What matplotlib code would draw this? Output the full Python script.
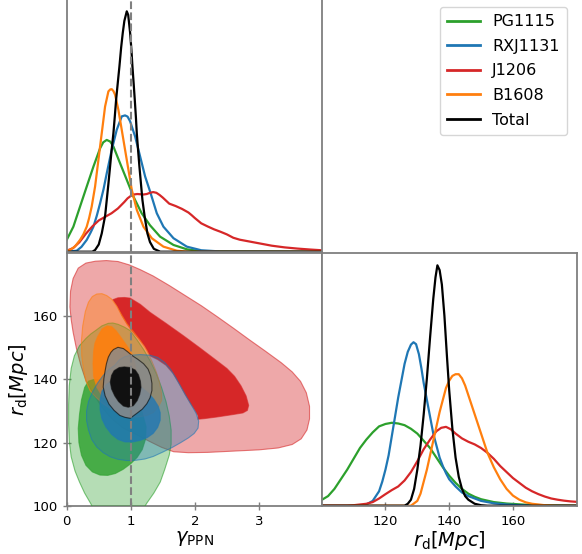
import matplotlib
matplotlib.use('Agg')
from matplotlib import pyplot as plt
from matplotlib.lines import Line2D

# colours of the lenses
c_pg = '#2ca02c'
c_rxj = '#1f77b4'
c_j12 = '#d62728'
c_b16 = '#ff7f0e'

lens_names = ['PG1115', 'RXJ1131', 'J1206', 'B1608', 'Total']

# ---- 1D marginal of gamma_PPN ----
pg_g_x = [0.0, 0.104, 0.208, 0.3125, 0.417, 0.521, 0.57, 0.625, 0.68, 0.729, 0.833, 0.9375, 1.042, 1.17, 1.30,
          1.458, 1.667, 1.875, 2.1, 3.98]
pg_g_y = [0.049, 0.104, 0.1875, 0.271, 0.354, 0.43, 0.455, 0.465, 0.458, 0.4375, 0.368, 0.299, 0.229, 0.16, 0.11,
          0.0625, 0.028, 0.01, 0.002, 0.0]

rxj_g_x = [0.0, 0.156, 0.23, 0.3125, 0.37, 0.417, 0.47, 0.521, 0.575, 0.625, 0.703, 0.781, 0.859, 0.911, 0.95,
           0.99, 1.068, 1.146, 1.224, 1.302, 1.406, 1.51, 1.667, 1.875, 2.1, 2.4, 3.98]
rxj_g_y = [0.0, 0.004, 0.02, 0.049, 0.078, 0.104, 0.15, 0.201, 0.26, 0.326, 0.424, 0.507, 0.563, 0.567, 0.562,
           0.542, 0.479, 0.396, 0.313, 0.25, 0.16, 0.104, 0.056, 0.021, 0.006, 0.001, 0.0]

j12_g_x = [0.0, 0.1, 0.2, 0.3, 0.4, 0.5, 0.6, 0.7, 0.8, 0.9, 0.95, 1.0, 1.05, 1.1, 1.15, 1.2, 1.25, 1.3, 1.35, 1.4,
           1.45, 1.5, 1.6, 1.7, 1.8, 1.9, 1.95, 2.0, 2.1, 2.2, 2.3, 2.4, 2.5, 2.6, 2.7, 2.8, 3.0, 3.2, 3.4, 3.6,
           3.8, 3.98]
j12_g_y = [0.004, 0.015, 0.04, 0.075, 0.105, 0.13, 0.145, 0.16, 0.18, 0.207, 0.222, 0.232, 0.238, 0.24, 0.239, 0.238, 0.24, 0.245, 0.248, 0.245,
           0.236, 0.225, 0.20, 0.19, 0.178, 0.163, 0.152, 0.14, 0.118, 0.105, 0.093, 0.083, 0.072, 0.058, 0.05, 0.045, 0.035, 0.025, 0.018, 0.013,
           0.009, 0.006]

b16_g_x = [0.0, 0.052, 0.13, 0.208, 0.26, 0.3125, 0.35, 0.39, 0.443, 0.495, 0.547, 0.599, 0.651, 0.68, 0.703,
           0.73, 0.755, 0.807, 0.859, 0.911, 0.964, 1.016, 1.094, 1.198, 1.328, 1.51, 1.72, 1.9, 3.98]
b16_g_y = [0.003, 0.007, 0.022, 0.049, 0.072, 0.104, 0.14, 0.1875, 0.271, 0.382, 0.493, 0.604, 0.667, 0.675, 0.676,
           0.668, 0.653, 0.59, 0.507, 0.424, 0.34, 0.257, 0.174, 0.104, 0.056, 0.021, 0.004, 0.0, 0.0]

tot_g_x = [0.0, 0.40, 0.443, 0.50, 0.547, 0.60, 0.625, 0.65, 0.677, 0.70, 0.729, 0.75, 0.771, 0.80, 0.823, 0.85,
           0.875, 0.90, 0.9375, 0.96, 0.99, 1.01, 1.026, 1.045, 1.0625, 1.08, 1.094, 1.115, 1.135, 1.16, 1.182,
           1.22, 1.26, 1.30, 1.36, 1.46, 3.98]
tot_g_y = [0.0, 0.0, 0.007, 0.03, 0.076, 0.15, 0.215, 0.28, 0.354, 0.42, 0.493, 0.56, 0.632, 0.71, 0.771, 0.85,
           0.91, 0.96, 1.0, 0.985, 0.91, 0.84, 0.771, 0.70, 0.632, 0.56, 0.493, 0.42, 0.354, 0.28, 0.215,
           0.14, 0.076, 0.04, 0.012, 0.0, 0.0]

# ---- 1D marginal of r_d ----
pg_r_x = [100, 102, 104, 106, 108, 110, 112, 114, 116, 118, 120, 122, 124, 126, 128, 130, 132, 134, 136, 138,
          140, 142, 144, 146, 148, 150, 154, 158, 164, 170, 180]
pg_r_y = [0.024, 0.04, 0.07, 0.11, 0.15, 0.195, 0.24, 0.275, 0.305, 0.33, 0.34, 0.345, 0.342, 0.335, 0.32, 0.30, 0.27, 0.24, 0.20, 0.16,
          0.125, 0.095, 0.07, 0.05, 0.037, 0.027, 0.015, 0.009, 0.004, 0.002, 0.0]

rxj_r_x = [100, 112, 114, 116, 118, 119, 120, 121, 122, 123, 124, 125, 126, 127, 128, 128.8, 129.6, 130.5, 131.3, 132,
           133, 134, 135, 136, 137, 138, 139, 140, 142, 144, 146, 148, 150, 154, 158, 162, 166, 180]
rxj_r_y = [0.0, 0.0, 0.005, 0.02, 0.06, 0.10, 0.15, 0.21, 0.29, 0.37, 0.45, 0.52, 0.59, 0.64, 0.67, 0.68, 0.672, 0.63, 0.57, 0.51,
           0.44, 0.37, 0.30, 0.25, 0.20, 0.165, 0.135, 0.11, 0.08, 0.055, 0.04, 0.03, 0.02, 0.01, 0.005, 0.002, 0.0, 0.0]

j12_r_x = [100, 108, 110, 112, 114, 116, 118, 120, 122, 124, 126, 128, 130, 132, 134, 136, 137.5, 139, 140.5, 142,
           144, 146, 148, 150, 152, 154, 156, 158, 160, 162, 164, 166, 168, 170, 172, 174, 176, 178, 180]
j12_r_y = [0.0, 0.0, 0.002, 0.005, 0.008, 0.015, 0.03, 0.048, 0.065, 0.08, 0.105, 0.14, 0.185, 0.235, 0.275, 0.31, 0.324, 0.328, 0.318, 0.30,
           0.28, 0.266, 0.255, 0.24, 0.22, 0.195, 0.165, 0.14, 0.115, 0.095, 0.075, 0.06, 0.048, 0.038, 0.03, 0.025, 0.021, 0.018, 0.016]

b16_r_x = [100, 128, 130, 131, 132, 133, 134, 135, 136, 137, 138, 139, 140, 141, 142, 143, 144, 145, 146, 147,
           148, 149, 150, 151, 152, 153, 154, 156, 158, 160, 162, 164, 166, 170, 174, 180]
b16_r_y = [0.0, 0.0, 0.02, 0.05, 0.10, 0.15, 0.21, 0.27, 0.33, 0.39, 0.44, 0.49, 0.52, 0.54, 0.547, 0.547, 0.53, 0.50, 0.46, 0.42,
           0.38, 0.34, 0.30, 0.26, 0.22, 0.19, 0.16, 0.11, 0.07, 0.042, 0.025, 0.014, 0.008, 0.002, 0.0, 0.0]

tot_r_x = [100, 126, 127, 128, 129, 130, 131, 132, 133, 134, 135, 135.7, 136.3, 137, 137.7, 138.5, 139.3, 140, 141, 142,
           143, 144, 145, 146, 148, 150, 152, 180]
tot_r_y = [0.0, 0.0, 0.008, 0.025, 0.07, 0.15, 0.25, 0.38, 0.53, 0.70, 0.86, 0.95, 1.0, 0.98, 0.92, 0.79, 0.62, 0.48, 0.32, 0.20,
           0.12, 0.07, 0.04, 0.025, 0.008, 0.002, 0.0, 0.0]

# ---- 2D credible regions (outer = 95%, inner = 68%), vertices ----
j12_out_x = [0.05, 0.06, 0.10, 0.18, 0.30, 0.45, 0.62, 0.80, 0.98, 1.15, 1.35, 1.60, 1.85, 2.10, 2.35, 2.60, 2.85,
             3.10, 3.35, 3.52, 3.65, 3.74, 3.79, 3.79, 3.75, 3.66, 3.52, 3.30, 3.00, 2.60, 2.20, 1.90, 1.67, 1.48,
             1.30, 1.10, 0.88, 0.70, 0.55, 0.42, 0.30, 0.22, 0.15, 0.10, 0.07]
j12_out_y = [163.0, 168.0, 172.0, 175.3, 176.9, 177.5, 177.7, 177.4, 176.3, 174.8, 172.8, 169.8, 166.6, 163.4, 159.9, 156.3, 152.6,
             149.0, 145.3, 142.4, 139.4, 135.8, 131.5, 127.5, 124.0, 121.2, 119.4, 118.3, 117.7, 117.3, 116.9, 116.8, 117.1, 118.5,
             120.3, 122.4, 124.6, 127.6, 131.2, 135.3, 139.6, 144.5, 150.0, 155.0, 159.0]
j12_in_x = [0.72, 0.80, 0.90, 0.99, 1.15, 1.30, 1.55, 1.82, 2.08, 2.34, 2.50, 2.62, 2.72, 2.80, 2.84, 2.82, 2.75, 2.60,
            2.34, 2.15, 2.05, 2.05, 2.00, 1.93, 1.85, 1.76, 1.66, 1.55, 1.42, 1.30, 1.22, 1.12, 1.02, 0.94, 0.86, 0.79]
j12_in_y = [165.3, 165.9, 166.0, 165.8, 163.8, 161.3, 157.8, 153.9, 150.0, 146.0, 143.5, 141.0, 138.0, 134.8, 131.8, 130.2, 129.4, 128.9,
            128.1, 127.6, 127.4, 128.5, 130.3, 132.5, 135.2, 138.5, 141.9, 144.5, 146.3, 147.5, 150.5, 153.0, 155.4, 157.6, 160.3, 163.2]

pg_out_x = [0.45, 0.55, 0.65, 0.72, 0.80, 0.90, 0.99, 1.10, 1.20, 1.30, 1.40, 1.48, 1.55, 1.60, 1.63, 1.63, 1.60, 1.53,
            1.46, 1.36, 1.25, 1.15, 1.05, 0.55, 0.45, 0.38, 0.28, 0.20, 0.13, 0.07, 0.04, 0.03, 0.03, 0.04, 0.07, 0.12,
            0.20, 0.30, 0.38]
pg_out_y = [155.5, 157.0, 157.8, 157.9, 157.5, 156.6, 155.5, 152.5, 149.5, 146.0, 141.8, 137.5, 133.0, 128.5, 124.0, 119.5, 116.0, 111.5,
            107.5, 104.0, 100.8, 97.5, 94.0, 94.0, 97.5, 100.5, 104.0, 107.5, 111.0, 115.5, 120.5, 126.0, 132.0, 138.0, 143.5, 147.5,
            150.7, 153.0, 154.5]
pg_in_x = [0.42, 0.34, 0.28, 0.23, 0.20, 0.18, 0.19, 0.23, 0.30, 0.40, 0.52, 0.64, 0.76, 0.88, 1.00, 1.10, 1.18, 1.23,
           1.24, 1.18, 1.05, 0.85, 0.62]
pg_in_y = [140.0, 139.5, 137.5, 133.5, 129.0, 124.5, 120.0, 116.0, 112.8, 110.7, 109.7, 109.6, 110.2, 111.5, 113.3, 115.3, 117.8, 121.0,
           125.0, 129.5, 134.0, 138.0, 140.0]

b16_out_x = [0.34, 0.40, 0.47, 0.55, 0.625, 0.70, 0.78, 0.86, 0.94, 1.04, 1.15, 1.25, 1.33, 1.40, 1.45, 1.48, 1.48, 1.43,
             1.35, 1.25, 1.13, 1.02, 0.92, 0.83, 0.70, 0.57, 0.46, 0.364, 0.30, 0.26, 0.235, 0.23, 0.25, 0.29]
b16_out_y = [164.5, 166.3, 167.1, 167.2, 166.6, 165.5, 163.3, 160.4, 157.7, 155.2, 152.3, 149.2, 145.8, 142.3, 139.0, 135.5, 133.3, 131.3,
             129.5, 128.6, 128.2, 128.1, 128.5, 129.2, 130.6, 132.3, 134.3, 136.5, 139.5, 143.5, 147.5, 152.3, 157.0, 161.5]
b16_in_x = [0.48, 0.55, 0.63, 0.70, 0.77, 0.85, 0.93, 1.00, 1.05, 1.08, 1.07, 1.00, 0.85, 0.70, 0.56, 0.47, 0.42, 0.41,
            0.42, 0.44]
b16_in_y = [153.5, 156.0, 157.0, 156.8, 155.5, 153.3, 151.0, 148.8, 146.5, 143.5, 140.0, 136.5, 133.5, 133.0, 134.5, 137.5, 141.0, 145.0,
            149.0, 151.5]

rxj_out_x = [0.75, 0.82, 0.90, 1.00, 1.15, 1.30, 1.42, 1.53, 1.62, 1.70, 1.78, 1.86, 1.95, 2.02, 2.06, 2.05, 1.99, 1.90,
             1.78, 1.65, 1.50, 1.35, 1.22, 1.08, 0.94, 0.80, 0.68, 0.57, 0.47, 0.39, 0.34, 0.31, 0.31, 0.34, 0.40, 0.48,
             0.57, 0.66]
rxj_out_y = [144.5, 146.2, 147.2, 147.7, 147.9, 147.7, 147.0, 145.4, 143.3, 140.7, 137.8, 134.9, 131.8, 129.3, 126.8, 124.6, 122.9, 121.5,
             120.0, 118.5, 117.0, 115.6, 114.8, 114.4, 114.3, 114.7, 115.5, 116.8, 118.6, 121.0, 124.0, 127.0, 130.0, 133.0, 136.0, 138.8,
             141.3, 143.2]
rxj_in_x = [0.62, 0.55, 0.52, 0.52, 0.55, 0.61, 0.70, 0.80, 0.91, 1.03, 1.15, 1.26, 1.35, 1.42, 1.46, 1.46, 1.43, 1.36,
            1.27, 1.15, 1.00, 0.85, 0.72]
rxj_in_y = [138.5, 136.3, 133.5, 130.5, 127.5, 125.0, 122.6, 121.0, 120.2, 120.2, 120.7, 121.6, 122.9, 124.8, 127.1, 129.5, 131.5, 133.8,
            135.8, 137.8, 139.3, 140.0, 139.7]

tot_out_x = [0.73, 0.80, 0.885, 0.95, 1.02, 1.11, 1.20, 1.27, 1.31, 1.33, 1.33, 1.30, 1.25, 1.18, 1.09, 0.99, 0.91, 0.83,
             0.74, 0.66, 0.60, 0.57, 0.58, 0.60, 0.62, 0.65, 0.69]
tot_out_y = [149.5, 150.2, 149.8, 148.8, 147.6, 146.4, 145.0, 143.3, 141.2, 138.8, 136.5, 134.2, 132.3, 130.6, 129.2, 127.7, 128.0, 128.6,
             130.2, 132.2, 134.8, 137.6, 140.3, 142.8, 145.0, 147.1, 148.6]
tot_in_x = [0.90, 0.99, 1.07, 1.12, 1.15, 1.16, 1.14, 1.10, 1.04, 0.96, 0.885, 0.81, 0.75, 0.70, 0.68, 0.70, 0.74, 0.82]
tot_in_y = [144.0, 143.8, 143.0, 141.5, 139.5, 137.5, 135.3, 133.3, 131.7, 131.2, 131.6, 133.0, 134.8, 137.0, 139.2, 141.3, 142.8, 143.8]

gamma_lim = (0, 3.98)
rd_lim = (100, 180)

plt.rcParams['font.family'] = 'DejaVu Sans'
plt.rcParams['mathtext.fontset'] = 'dejavusans'

fig = plt.figure(figsize=(5.82, 5.54), dpi=100)

W, H = 582.0, 554.0
ax_top = fig.add_axes([66.7 / W, (554 - 251.7) / H, 255 / W, 252.4 / H])
ax_2d = fig.add_axes([66.7 / W, (554 - 505.7) / H, 255 / W, 252.4 / H])
ax_rd = fig.add_axes([321.7 / W, (554 - 505.7) / H, 255 / W, 252.4 / H])

for ax in (ax_top, ax_2d, ax_rd):
    for sp in ax.spines.values():
        sp.set_color('#7f7f7f')
        sp.set_linewidth(1.3)
    ax.tick_params(direction='inout', length=6, width=1, color='#7f7f7f', labelsize=9.5)

lw = 1.6

# top panel: gamma_PPN marginals
ax_top.plot(pg_g_x, pg_g_y, color=c_pg, lw=lw)
ax_top.plot(rxj_g_x, rxj_g_y, color=c_rxj, lw=lw)
ax_top.plot(j12_g_x, j12_g_y, color=c_j12, lw=lw)
ax_top.plot(b16_g_x, b16_g_y, color=c_b16, lw=lw)
ax_top.plot(tot_g_x, tot_g_y, color='black', lw=lw)
ax_top.axvline(1.0, color='gray', ls='--', lw=1.5)
ax_top.set_xlim(gamma_lim)
ax_top.set_ylim(0, 1.05)
ax_top.set_xticks([])
ax_top.set_yticks([])

# right panel: r_d marginals
ax_rd.plot(pg_r_x, pg_r_y, color=c_pg, lw=lw)
ax_rd.plot(rxj_r_x, rxj_r_y, color=c_rxj, lw=lw)
ax_rd.plot(j12_r_x, j12_r_y, color=c_j12, lw=lw)
ax_rd.plot(b16_r_x, b16_r_y, color=c_b16, lw=lw)
ax_rd.plot(tot_r_x, tot_r_y, color='black', lw=lw)
ax_rd.set_xlim(rd_lim)
ax_rd.set_ylim(0, 1.05)
ax_rd.set_xticks([120, 140, 160])
ax_rd.set_yticks([])
ax_rd.set_xlabel(r'$r_{\rm d}[Mpc]$', fontsize=14, labelpad=1)


# 2D panel
def region(ax, xs, ys, color, alpha, z, edge=None):
    ax.fill(xs, ys, facecolor=color, alpha=alpha, zorder=z, lw=0)
    ax.fill(xs + xs[:1], ys + ys[:1], facecolor='none', edgecolor=edge or color,
            alpha=0.6, lw=0.8, zorder=z + 0.1, joinstyle='round')


region(ax_2d, j12_out_x, j12_out_y, c_j12, 0.4, 1)
region(ax_2d, j12_in_x, j12_in_y, c_j12, 1.0, 2)
region(ax_2d, pg_out_x, pg_out_y, c_pg, 0.35, 3)
region(ax_2d, pg_in_x, pg_in_y, c_pg, 0.8, 4)
region(ax_2d, b16_out_x, b16_out_y, c_b16, 0.4, 5)
region(ax_2d, b16_in_x, b16_in_y, c_b16, 0.9, 6)
region(ax_2d, rxj_out_x, rxj_out_y, c_rxj, 0.35, 7)
region(ax_2d, rxj_in_x, rxj_in_y, c_rxj, 0.8, 8)
region(ax_2d, tot_out_x, tot_out_y, '#8a8a8a', 0.85, 9, edge='black')
region(ax_2d, tot_in_x, tot_in_y, '#111111', 1.0, 10)
ax_2d.axvline(1.0, color='gray', ls='--', lw=1.5, zorder=12)
ax_2d.set_xlim(gamma_lim)
ax_2d.set_ylim(rd_lim)
ax_2d.set_xticks([0, 1, 2, 3])
ax_2d.set_yticks([100, 120, 140, 160])
ax_2d.set_xlabel(r'$\gamma_{\rm PPN}$', fontsize=14, labelpad=1)
ax_2d.set_ylabel(r'$r_{\rm d}[Mpc]$', fontsize=14, labelpad=2)

handles = [Line2D([], [], color=c, lw=2) for c in (c_pg, c_rxj, c_j12, c_b16, 'black')]
fig.legend(handles, lens_names, loc='upper right', bbox_to_anchor=(567 / W, 1 - 7 / H),
           borderaxespad=0, fontsize=11.5, handlelength=2.05, handletextpad=0.8, frameon=True,
           labelspacing=0.6, borderpad=0.45)

fig.savefig('out.png', dpi=100)
